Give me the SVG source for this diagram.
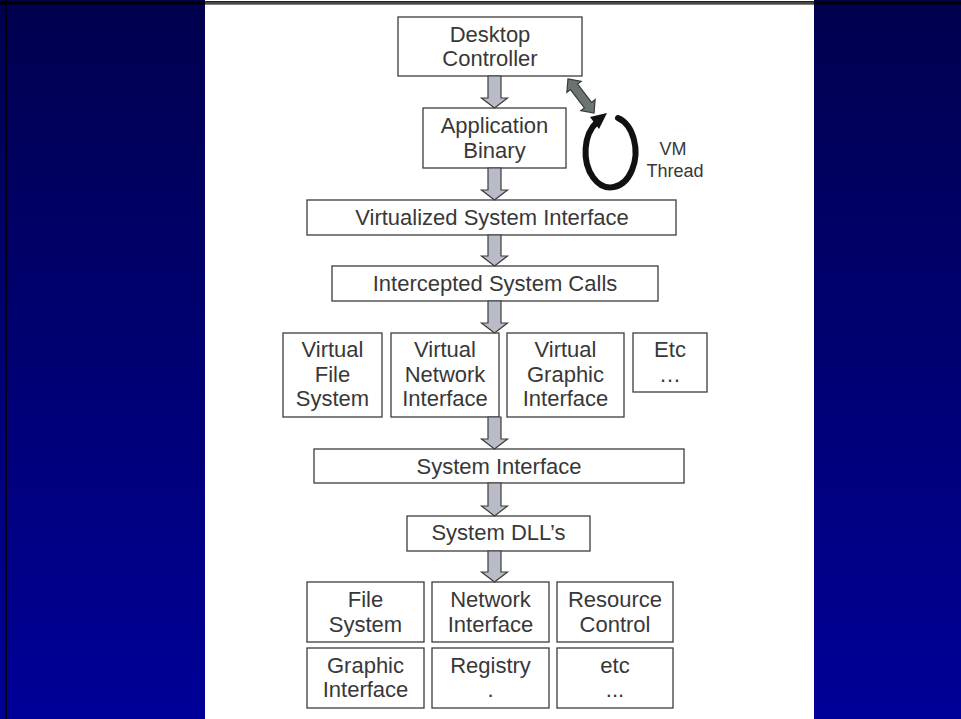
<svg xmlns="http://www.w3.org/2000/svg" width="961" height="719" viewBox="0 0 961 719">
<defs>
<linearGradient id="bg" x1="0" y1="0" x2="0" y2="1">
<stop offset="0" stop-color="#00004e"/>
<stop offset="1" stop-color="#000098"/>
</linearGradient>
<style>
.box{fill:#ffffff;stroke:#3c3c3c;stroke-width:1.3}
.t{font-family:"Liberation Sans",Arial,sans-serif;font-size:22px;fill:#383838;text-anchor:middle}
.s{font-size:18px}
.arr{fill:#b9bcc6;stroke:#3c3c3c;stroke-width:1.2;stroke-linejoin:miter}
.darr{fill:#6c7373;stroke:#3a3a3a;stroke-width:1.2}
</style>
</defs>
<rect x="0" y="0" width="961" height="719" fill="url(#bg)"/>
<rect x="5" y="0" width="2" height="719" fill="#000010"/>
<rect x="205" y="0" width="609" height="719" fill="#ffffff"/>
<rect x="0" y="1" width="961" height="3.5" fill="#000000"/>
<rect x="205" y="1.5" width="609" height="2.5" fill="#474747"/>

<g id="desktop-controller"><rect class="box" x="398" y="17" width="184" height="59"/><text class="t" x="490" y="42">Desktop</text><text class="t" x="490" y="66">Controller</text></g>
<g id="application-binary"><rect class="box" x="423" y="108" width="143" height="60"/><text class="t" x="494.5" y="133">Application</text><text class="t" x="494.5" y="158">Binary</text></g>
<g id="vm-thread"><text class="t s" x="673" y="155">VM</text><text class="t s" x="675" y="177">Thread</text></g>
<g id="virtualized-system-interface"><rect class="box" x="307" y="200" width="369" height="35"/><text class="t" x="492" y="225">Virtualized System Interface</text></g>
<g id="intercepted-system-calls"><rect class="box" x="332" y="266" width="326" height="35"/><text class="t" x="495" y="291">Intercepted System Calls</text></g>
<g id="virtual-file-system"><rect class="box" x="283" y="333" width="99" height="84"/><text class="t" x="332.5" y="357">Virtual</text><text class="t" x="332.5" y="382">File</text><text class="t" x="332.5" y="406">System</text></g>
<g id="virtual-network-interface"><rect class="box" x="391" y="333" width="108" height="84"/><text class="t" x="445" y="357">Virtual</text><text class="t" x="445" y="382">Network</text><text class="t" x="445" y="406">Interface</text></g>
<g id="virtual-graphic-interface"><rect class="box" x="507" y="333" width="117" height="84"/><text class="t" x="565.5" y="357">Virtual</text><text class="t" x="565.5" y="382">Graphic</text><text class="t" x="565.5" y="406">Interface</text></g>
<g id="virtual-etc"><rect class="box" x="633" y="333" width="74" height="59"/><text class="t" x="670" y="357">Etc</text><text class="t" x="670" y="382">…</text></g>
<g id="system-interface"><rect class="box" x="314" y="449" width="370" height="34"/><text class="t" x="499" y="474">System Interface</text></g>
<g id="system-dlls"><rect class="box" x="407" y="516" width="183" height="35"/><text class="t" x="498.5" y="540">System DLL’s</text></g>
<g id="file-system"><rect class="box" x="307" y="582" width="117" height="60"/><text class="t" x="365.5" y="607">File</text><text class="t" x="365.5" y="632">System</text></g>
<g id="network-interface"><rect class="box" x="432" y="582" width="117" height="60"/><text class="t" x="490.5" y="607">Network</text><text class="t" x="490.5" y="632">Interface</text></g>
<g id="resource-control"><rect class="box" x="557" y="582" width="116" height="60"/><text class="t" x="615" y="607">Resource</text><text class="t" x="615" y="632">Control</text></g>
<g id="graphic-interface"><rect class="box" x="307" y="648" width="117" height="60"/><text class="t" x="365.5" y="673">Graphic</text><text class="t" x="365.5" y="697">Interface</text></g>
<g id="registry"><rect class="box" x="432" y="648" width="117" height="60"/><text class="t" x="490.5" y="673">Registry</text><text class="t" x="490.5" y="697">.</text></g>
<g id="etc"><rect class="box" x="557" y="648" width="116" height="60"/><text class="t" x="615" y="673">etc</text><text class="t" x="615" y="697">...</text></g>

<g id="connectors">
<polygon class="arr" points="488,76 501,76 501,98 507.5,98 494.5,108 481.5,98 488,98"/>
<polygon class="arr" points="488,168 501,168 501,190 507.5,190 494.5,200 481.5,190 488,190"/>
<polygon class="arr" points="488,235 501,235 501,256 507.5,256 494.5,266 481.5,256 488,256"/>
<polygon class="arr" points="488,301 501,301 501,323 507.5,323 494.5,333 481.5,323 488,323"/>
<polygon class="arr" points="488,417 501,417 501,439 507.5,439 494.5,449 481.5,439 488,439"/>
<polygon class="arr" points="488,483 501,483 501,506 507.5,506 494.5,516 481.5,506 488,506"/>
<polygon class="arr" points="488,551 501,551 501,572 507.5,572 494.5,582 481.5,572 488,572"/>
<polygon class="darr" transform="translate(581,96) rotate(52.6)" points="-21.5,0 -11.5,-9 -11.5,-4.5 11.5,-4.5 11.5,-9 21.5,0 11.5,9 11.5,4.5 -11.5,4.5 -11.5,9"/>
<path d="M618 118 A25 35.5 0 1 1 597 122" fill="none" stroke="#111111" stroke-width="6" stroke-linecap="round"/>
<polygon points="590,117 607,113 599,129" fill="#111111"/>
</g>
</svg>
